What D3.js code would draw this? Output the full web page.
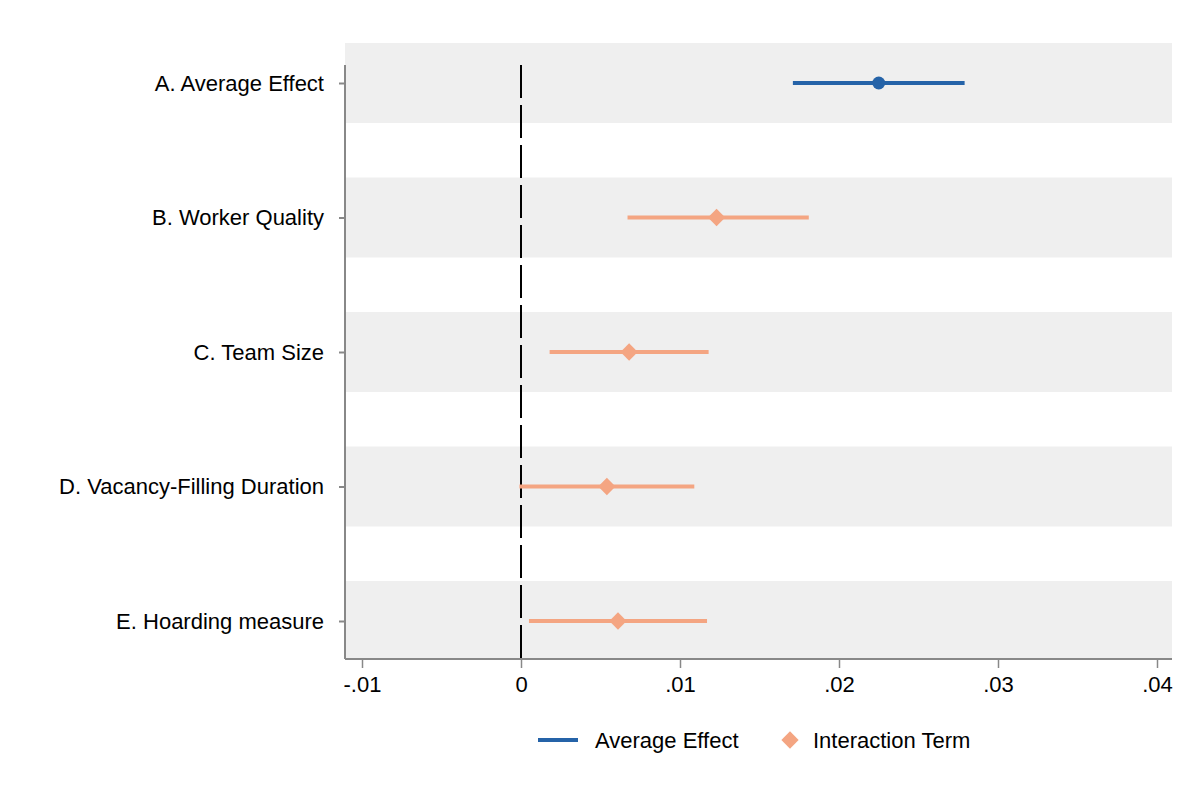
<!DOCTYPE html>
<html>
<head>
<meta charset="utf-8">
<script src="https://cdn.jsdelivr.net/npm/d3@7"></script>
<style>
  html, body { margin: 0; padding: 0; background: #fff; }
  svg { display: block; }
  text { font-family: "Liberation Sans", Arial, Helvetica, sans-serif; fill: #000; }
</style>
</head>
<body>
<svg id="chart" width="1200" height="800"></svg>
<script>
// ---- Data ----
const categories = ["A. Average Effect", "B. Worker Quality", "C. Team Size", "D. Vacancy-Filling Duration", "E. Hoarding measure"];
const estimates  = [0.0225, 0.0123, 0.0068, 0.0054, 0.0061];
const ciLow      = [0.0171, 0.0067, 0.0018, -0.0001, 0.0005];
const ciHigh     = [0.0279, 0.0181, 0.0118, 0.0109, 0.0117];
const seriesType = ["Average Effect", "Interaction Term", "Interaction Term", "Interaction Term", "Interaction Term"];
const xTicks     = [-0.01, 0, 0.01, 0.02, 0.03, 0.04];
const xTickLabels = ["-.01", "0", ".01", ".02", ".03", ".04"];
const legendLabels = ["Average Effect", "Interaction Term"];

// ---- Layout ----
const svg = d3.select("#chart");
const plotLeft = 345, plotRight = 1172;
const axisTop = 65, axisBottom = 659;
const colors = { "Average Effect": "#2563a8", "Interaction Term": "#f4a582" };
const fontSize = "22px";

const x = d3.scaleLinear().domain([-0.01, 0.04]).range([362, 1157]);
const y = d3.scalePoint().domain(categories).range([83, 621]);
const bandH = 80;

// background bands
svg.append("g").selectAll("rect").data(categories).join("rect")
  .attr("x", plotLeft).attr("width", plotRight - plotLeft)
  .attr("y", d => y(d) - bandH / 2).attr("height", d => Math.min(bandH, axisBottom - (y(d) - bandH / 2)))
  .attr("fill", "#efefef");

// zero reference line (dashed)
svg.append("line")
  .attr("x1", x(0)).attr("x2", x(0))
  .attr("y1", axisTop).attr("y2", axisBottom)
  .attr("stroke", "#000").attr("stroke-width", 2)
  .attr("stroke-dasharray", "33,7");

// y axis
const yAxis = d3.axisLeft(y).tickSize(6).tickPadding(15);
const gy = svg.append("g").attr("transform", `translate(${plotLeft},0)`).call(yAxis);
gy.select(".domain").attr("stroke", "#888").attr("stroke-width", 2)
  .attr("d", `M0,${axisTop}V${axisBottom}`);
gy.selectAll(".tick line").attr("stroke", "#888").attr("stroke-width", 2);
gy.selectAll(".tick text").style("font-size", fontSize).attr("fill", "#000")
  .style("font-family", "'Liberation Sans', Arial, sans-serif");

// x axis
const xAxis = d3.axisBottom(x).tickValues(xTicks).tickFormat((d, i) => xTickLabels[i]).tickSize(9).tickPadding(8);
const gx = svg.append("g").attr("transform", `translate(0,${axisBottom})`).call(xAxis);
gx.select(".domain").attr("d", `M${plotLeft},0H${plotRight}`).attr("stroke", "#888").attr("stroke-width", 2);
gx.selectAll(".tick line").attr("stroke", "#888").attr("stroke-width", 1.5);
gx.selectAll(".tick text").style("font-size", fontSize).attr("fill", "#000")
  .style("font-family", "'Liberation Sans', Arial, sans-serif");

// CIs
const rows = categories.map((c, i) => ({ c, est: estimates[i], lo: ciLow[i], hi: ciHigh[i], type: seriesType[i] }));
svg.append("g").selectAll("line").data(rows).join("line")
  .attr("x1", d => x(d.lo)).attr("x2", d => x(d.hi))
  .attr("y1", d => y(d.c)).attr("y2", d => y(d.c))
  .attr("stroke", d => colors[d.type]).attr("stroke-width", 4);

// points
const pts = svg.append("g");
pts.selectAll("circle").data(rows.filter(d => d.type === "Average Effect")).join("circle")
  .attr("cx", d => x(d.est)).attr("cy", d => y(d.c)).attr("r", 6.5)
  .attr("fill", colors["Average Effect"]);
const diamond = d3.symbol().type(d3.symbolDiamond2).size(190);
pts.selectAll("path").data(rows.filter(d => d.type === "Interaction Term")).join("path")
  .attr("transform", d => `translate(${x(d.est)},${y(d.c)})`)
  .attr("d", diamond).attr("fill", colors["Interaction Term"]);

// legend
const lg = svg.append("g");
lg.append("line").attr("x1", 538).attr("x2", 578).attr("y1", 740).attr("y2", 740)
  .attr("stroke", colors["Average Effect"]).attr("stroke-width", 4);
lg.append("text").attr("x", 595).attr("y", 740).attr("dy", "0.35em").style("font-size", fontSize).text(legendLabels[0]);
lg.append("path").attr("transform", "translate(790,740)").attr("d", diamond).attr("fill", colors["Interaction Term"]);
lg.append("text").attr("x", 813).attr("y", 740).attr("dy", "0.35em").style("font-size", fontSize).text(legendLabels[1]);
</script>
</body>
</html>
